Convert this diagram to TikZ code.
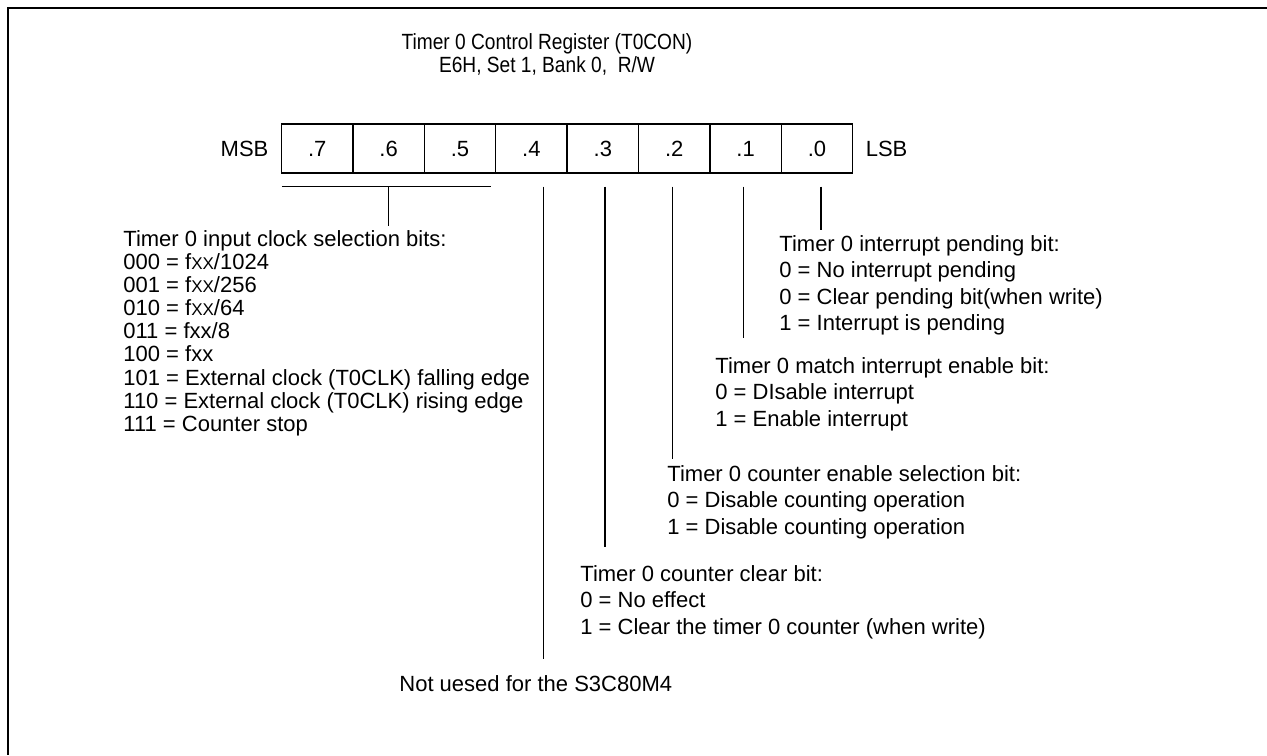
\documentclass[tikz,border=0pt]{standalone}
\usepackage{fontspec}
\setmainfont{Liberation Sans}
\newfontfamily\narrowfont{Liberation Sans}[FakeStretch=0.87]
\usetikzlibrary{positioning}
\newcommand{\regfont}{\fontsize{11}{13.25}\selectfont}
\newcommand{\clkfont}{\fontsize{11}{11.56}\selectfont}
\newcommand{\sxx}{{\fontsize{8.5}{0}\selectfont XX}}
\tikzset{
  cell/.style ={draw=black,line width=.7pt,minimum width=35.7pt,minimum height=24.5pt,inner sep=0pt,
                text height=8pt,text depth=0pt,font=\regfont},
  desc/.style ={inner sep=0pt,align=left,anchor=north west,font=\regfont},
  side/.style ={inner sep=0pt,font=\regfont},
  lead/.style ={line width=.7pt,black},
  frame/.style={line width=1.1pt,black},
}

\begin{document}
\begin{tikzpicture}[x=0.5pt,y=-0.5pt]
\useasboundingbox (0,0) rectangle (1267,755);
% open frame (top and left)
\draw[frame] (1267,8) -- (8,8) -- (8,755);
% title
\node[align=center,font=\narrowfont\regfont] (ttl) at (547,54.5) {Timer 0 Control Register (T0CON)\\[-1.75pt]E6H, Set 1, Bank 0,\ \ R/W};
% register cells
\foreach \i [count=\k from 0] in {7,...,0}
  \node[cell] (b\i) at (317.2+71.4*\k,148.5) {.\i};
\node[side,left=6pt of b7] (msb) {MSB};
\node[side,right=6pt of b0] (lsb) {LSB};
% descriptions
\node[desc,font=\clkfont] (clk) at (123,230) {Timer 0 input clock selection bits:\\
  000 = f\sxx/1024\\001 = f\sxx/256\\010 = f\sxx/64\\011 = fxx/8\\100 = fxx\\
  101 = External clock (T0CLK) falling edge\\110 = External clock (T0CLK) rising edge\\111 = Counter stop};
\node[desc] (d0) at (779,235) {Timer 0 interrupt pending bit:\\0 = No interrupt pending\\0 = Clear pending bit(when write)\\1 = Interrupt is pending};
\node[desc] (d1) at (715,357) {Timer 0 match interrupt enable bit:\\0 = DIsable interrupt\\1 = Enable interrupt};
\node[desc] (d2) at (667,465) {Timer 0 counter enable selection bit:\\0 = Disable counting operation\\1 = Disable counting operation};
\node[desc] (d3) at (580,565) {Timer 0 counter clear bit:\\0 = No effect\\1 = Clear the timer 0 counter (when write)};
\node[desc] (d4) at (399,675) {Not uesed for the S3C80M4};
% leaders
\draw[lead] ([shift={(1,13)}]b7.south west) -- ([shift={(-5,13)}]b5.south east);
\draw[lead] ([yshift=-6.5pt]b6.south) -- ++(0,39);
\foreach \i/\dx/\len in {0/4/43,1/-2/151,2/-2/272,3/2/360,4/12/472}
  \draw[lead] ([shift={(\dx,13)}]b\i.south) -- ++(0,\len);
\end{tikzpicture}
\end{document}
